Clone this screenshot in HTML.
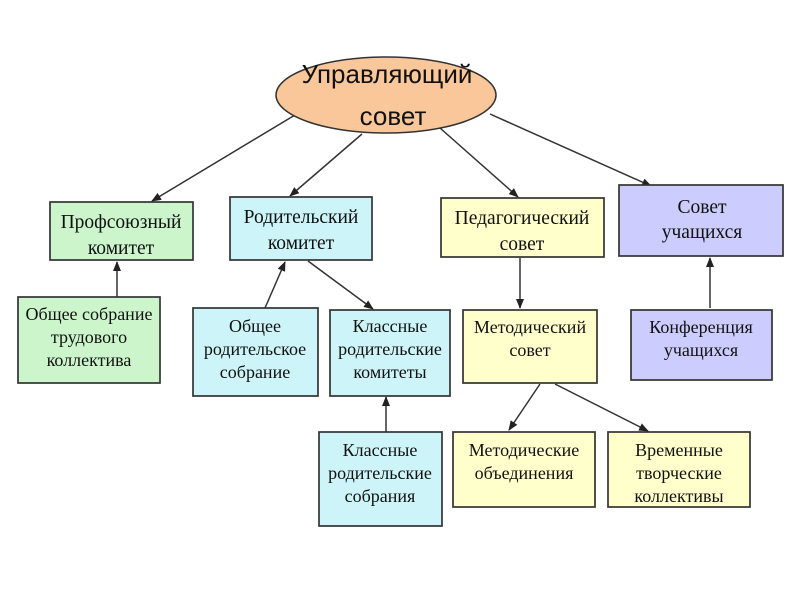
<!DOCTYPE html>
<html><head><meta charset="utf-8"><style>
body{margin:0;width:800px;height:600px;background:#fff;overflow:hidden}
</style></head><body>
<svg width="800" height="600" xmlns="http://www.w3.org/2000/svg">
<defs><marker id="a" markerWidth="10" markerHeight="8" refX="9" refY="4" orient="auto" markerUnits="userSpaceOnUse"><path d="M0,0 L10,4 L0,8z" fill="#222"/></marker></defs>
<g stroke="#333" stroke-width="1.5" fill="none" marker-end="url(#a)">
<line x1="300" y1="112" x2="152" y2="201"/>
<line x1="362" y1="134" x2="290" y2="196"/>
<line x1="440" y1="128" x2="518" y2="197"/>
<line x1="490" y1="114" x2="651" y2="186"/>
<line x1="117" y1="297" x2="117" y2="262"/>
<line x1="265" y1="308" x2="285" y2="262"/>
<line x1="308" y1="261" x2="373" y2="309"/>
<line x1="386" y1="432" x2="386" y2="397"/>
<line x1="520" y1="258" x2="520" y2="308"/>
<line x1="710" y1="308" x2="710" y2="258"/>
<line x1="540" y1="384" x2="509" y2="430"/>
<line x1="555" y1="384" x2="648" y2="431"/>
</g>
<ellipse cx="386" cy="95" rx="110" ry="38" fill="#fac79a" stroke="#333" stroke-width="1.5"/>
<g font-family="Liberation Sans, sans-serif" font-size="26" fill="#111" text-anchor="middle">
<text x="387" y="83">Управляющий</text><text x="393" y="125">совет</text></g>
<g stroke="#333" stroke-width="1.7">
<rect x="50" y="202" width="143" height="58" fill="#ccf5cc"/>
<rect x="230" y="197" width="142" height="63" fill="#cdf4f8"/>
<rect x="441" y="198" width="163" height="59" fill="#ffffcc"/>
<rect x="619" y="185" width="164" height="71" fill="#ccccfe"/>
<rect x="18" y="297" width="142" height="86" fill="#ccf5cc"/>
<rect x="193" y="308" width="125" height="88" fill="#cdf4f8"/>
<rect x="330" y="310" width="120" height="86" fill="#cdf4f8"/>
<rect x="463" y="310" width="134" height="73" fill="#ffffcc"/>
<rect x="631" y="310" width="141" height="70" fill="#ccccfe"/>
<rect x="319" y="432" width="123" height="94" fill="#cdf4f8"/>
<rect x="453" y="432" width="142" height="75" fill="#ffffcc"/>
<rect x="608" y="432" width="142" height="75" fill="#ffffcc"/>
</g>
<g font-family="Liberation Serif, serif" font-size="18" fill="#111" text-anchor="middle">
<g font-size="19.5">
<text x="121" y="228">Профсоюзный</text><text x="121" y="254">комитет</text>
<text x="301" y="223">Родительский</text><text x="301" y="249">комитет</text>
<text x="522" y="224">Педагогический</text><text x="522" y="250">совет</text>
<text x="702" y="213">Совет</text><text x="702" y="238">учащихся</text>
</g>
<text x="89" y="320">Общее собрание</text><text x="89" y="343">трудового</text><text x="89" y="366">коллектива</text>
<text x="255" y="332">Общее</text><text x="255" y="355">родительское</text><text x="255" y="378">собрание</text>
<text x="390" y="332">Классные</text><text x="390" y="355">родительские</text><text x="390" y="378">комитеты</text>
<text x="530" y="333">Методический</text><text x="530" y="356">совет</text>
<text x="701" y="333">Конференция</text><text x="701" y="356">учащихся</text>
<text x="380" y="456">Классные</text><text x="380" y="479">родительские</text><text x="380" y="502">собрания</text>
<text x="524" y="456">Методические</text><text x="524" y="479">объединения</text>
<text x="679" y="456">Временные</text><text x="679" y="479">творческие</text><text x="679" y="502">коллективы</text>
</g>
</svg>
</body></html>
